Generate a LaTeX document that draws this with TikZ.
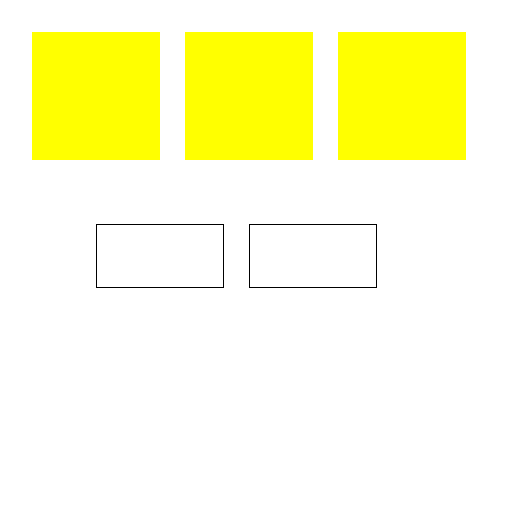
\documentclass[tikz,border=0pt]{standalone}
\definecolor{pureyellow}{RGB}{255,255,0}
\begin{document}
\begin{tikzpicture}[x=1pt,y=-1pt,
  yellowbox/.style={fill=pureyellow,draw=none,minimum width=128pt,minimum height=128pt,inner sep=0pt,outer sep=0pt,anchor=north west},
  whitebox/.style={fill=white,draw=black,line width=0.8pt,minimum width=127pt,minimum height=63pt,inner sep=0pt,anchor=north west}]
\useasboundingbox (0,0) rectangle (512,512);
\node[yellowbox] (y1) at (32,32) {};
\node[yellowbox] (y2) at (185,32) {};
\node[yellowbox] (y3) at (338,32) {};
\node[whitebox] (w1) at (95.8,223.8) {};
\node[whitebox] (w2) at (248.8,223.8) {};
\end{tikzpicture}
\end{document}
